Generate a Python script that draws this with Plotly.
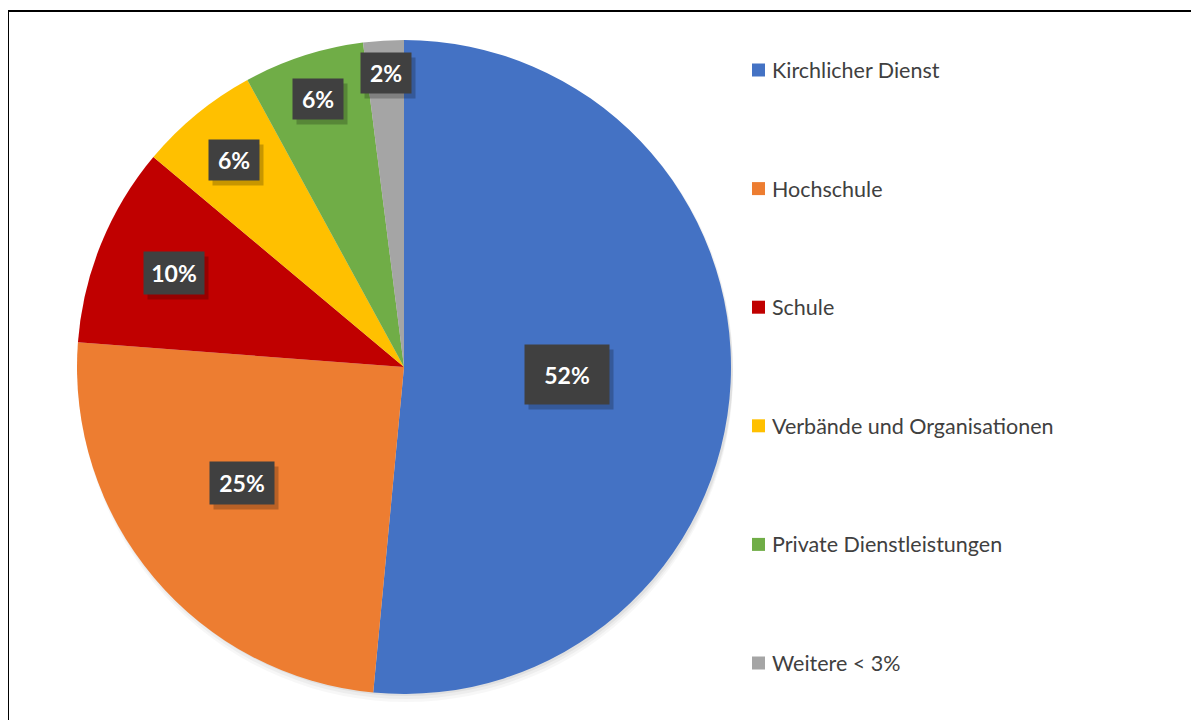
import math
import plotly.graph_objects as go

categories = ["Kirchlicher Dienst", "Hochschule", "Schule",
              "Verbände und Organisationen", "Private Dienstleistungen", "Weitere < 3%"]
values = [51.5, 24.7, 9.9, 5.95, 5.95, 2.0]
colors = ["#4472C4", "#ED7D31", "#C00000", "#FFC000", "#70AD47", "#A5A5A5"]

# label placement style (fraction of radius, angular nudge in degrees) and box sizes (px)
label_rfrac = [0.5, 0.61, 0.76, 0.82, 0.86, 0.9]
label_nudge = [0, 4.5, 0, 0, 0, 0]
label_box = [(84, 59), (64, 42), (60, 42), (50, 40), (50, 40), (50, 40)]

OFF = 8  # page body margin
W, H = 1199 - OFF, 720 - OFF


def X(px):
    return (px - OFF) / W


def Y(py):
    return 1 - (py - OFF) / H


CX, CY, R = 404, 367, 327  # pie centre/radius in page px

fig = go.Figure()
fig.add_trace(go.Pie(
    labels=categories, values=values, sort=False, direction="clockwise", rotation=0,
    marker=dict(colors=colors, line=dict(width=0)),
    textinfo="none", hoverinfo="label+percent", showlegend=False,
    domain=dict(x=[X(CX - R), X(CX + R)], y=[Y(CY + R), Y(CY - R)]),
))

shapes = []
annotations = []
# soft shadow under pie
for i, a in enumerate([0.05, 0.04, 0.03]):
    d = 2 + i * 3
    shapes.append(dict(type="circle", xref="paper", yref="paper", layer="below",
                       x0=X(CX - R + 2), x1=X(CX + R + 2),
                       y0=Y(CY + R + d), y1=Y(CY - R + d),
                       fillcolor=f"rgba(0,0,0,{a})", line=dict(width=0)))

total = sum(values)
cum = 0.0
for i, v in enumerate(values):
    mid = (cum + v / 2) / total * 2 * math.pi + math.radians(label_nudge[i])
    cum += v
    r = label_rfrac[i] * R
    px = CX + r * math.sin(mid)
    py = CY - r * math.cos(mid)
    w, h = label_box[i]
    txt = f"{round(v / total * 100)}%"
    annotations.append(dict(x=X(px + 4), y=Y(py + 5), xref="paper", yref="paper",
                            xanchor="center", yanchor="middle",
                            text="", showarrow=False, width=w, height=h,
                            bgcolor="rgba(0,0,0,0.22)", borderpad=0))
    annotations.append(dict(x=X(px), y=Y(py), xref="paper", yref="paper",
                            xanchor="center", yanchor="middle",
                            text=f"<b>{txt}</b>", showarrow=False, width=w, height=h,
                            bgcolor="#404040", borderpad=0,
                            font=dict(family="Lato", size=23, color="white")))

# manual legend
for i, c in enumerate(categories):
    yc = 70 + i * 118.6
    shapes.append(dict(type="rect", xref="paper", yref="paper",
                       x0=X(752), x1=X(765), y0=Y(yc + 6.5), y1=Y(yc - 6.5),
                       fillcolor=colors[i], line=dict(width=0)))
    annotations.append(dict(x=X(770), y=Y(yc), xref="paper", yref="paper",
                            xanchor="left", yanchor="middle", text=c, showarrow=False,
                            font=dict(family="Lato", size=21.5, color="#404040")))

# frame lines
shapes.append(dict(type="line", xref="paper", yref="paper", x0=X(7), x1=1, y0=Y(11), y1=Y(11),
                   line=dict(color="black", width=2)))
shapes.append(dict(type="line", xref="paper", yref="paper", x0=X(8), x1=X(8), y0=0, y1=Y(10),
                   line=dict(color="black", width=2)))

fig.update_layout(width=W, height=H, margin=dict(l=0, r=0, t=0, b=0),
                  paper_bgcolor="white", plot_bgcolor="white",
                  shapes=shapes, annotations=annotations)
fig.write_html("out.html")
